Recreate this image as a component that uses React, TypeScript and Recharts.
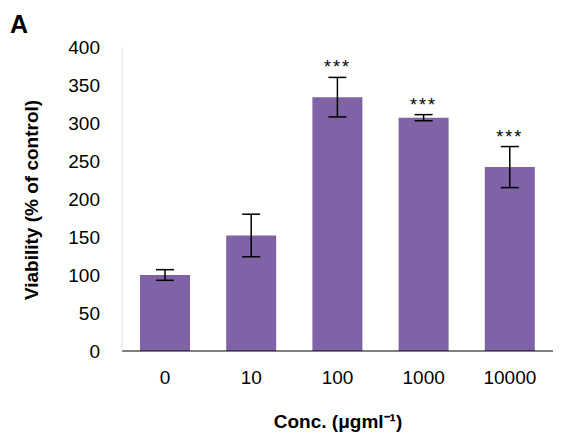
import { BarChart, Bar, XAxis, YAxis, ErrorBar, LabelList } from "recharts";

const concentrations = ["0", "10", "100", "1000", "10000"];
const viability = [100, 152, 334, 307, 242];
const errors = [7, 28, 26, 4, 27];
const stars = ["", "", "***", "***", "***"];
const yTicks = [0, 50, 100, 150, 200, 250, 300, 350, 400];

const data = concentrations.map((c, i) => ({
  conc: c,
  value: viability[i],
  err: errors[i],
  star: stars[i],
}));

const FONT = "Arial, 'Liberation Sans', sans-serif";

function StarLabel(props: any) {
  const { x, y, width, height, index } = props;
  const d = data[index];
  if (!d.star) return null;
  const top = y - (d.err * height) / d.value;
  return (
    <text x={x + width / 2} y={top - 4} textAnchor="middle" fontSize={18} letterSpacing={2} fontFamily={FONT} fill="#000">
      {d.star}
    </text>
  );
}

export default function App() {
  return (
    <div style={{ position: "absolute", left: 0, top: 0, width: 574, height: 440, background: "#fff", fontFamily: FONT }}>
      <div style={{ position: "absolute", left: 10, top: 10, fontSize: 25, fontWeight: "bold" }}>A</div>
      <div
        style={{
          position: "absolute",
          left: 32,
          top: 200,
          transform: "translate(-50%, -50%) rotate(-90deg)",
          fontSize: 19,
          fontWeight: "bold",
          whiteSpace: "nowrap",
        }}
      >
        Viability (% of control)
      </div>
      <div style={{ position: "absolute", left: 338, top: 408, transform: "translateX(-50%)", fontSize: 19, fontWeight: "bold", whiteSpace: "nowrap" }}>
        Conc. (μgml⁻¹)
      </div>
      <BarChart width={574} height={440} data={data} margin={{ top: 47, right: 21, bottom: 59, left: 0 }}>
        <XAxis
          dataKey="conc"
          axisLine={{ stroke: "#000" }}
          tickLine={false}
          tick={{ fill: "#000", fontSize: 19, fontFamily: FONT }}
          tickMargin={14}
        />
        <YAxis
          width={122}
          domain={[0, 400]}
          ticks={yTicks}
          axisLine={{ stroke: "#e0e0e0" }}
          tickLine={false}
          tick={{ fill: "#000", fontSize: 19, fontFamily: FONT }}
          tickMargin={16}
        />
        <Bar dataKey="value" fill="#7f63a6" barSize={50} isAnimationActive={false}>
          <ErrorBar dataKey="err" width={9} stroke="#000" strokeWidth={1.5} />
          <LabelList dataKey="star" content={StarLabel} />
        </Bar>
      </BarChart>
    </div>
  );
}
